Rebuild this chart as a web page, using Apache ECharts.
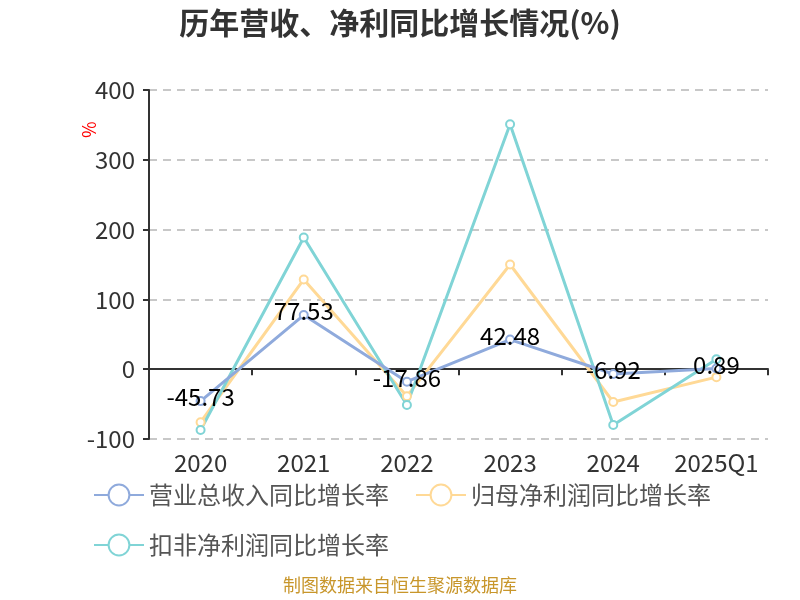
<!DOCTYPE html>
<html><head><meta charset="utf-8">
<script src="https://cdn.jsdelivr.net/npm/echarts@6/dist/echarts.min.js"></script>
<style>html,body{margin:0;padding:0;background:#fff}#c{width:800px;height:600px}</style>
</head><body><div id="c"></div>
<script>
const categories = ['2020','2021','2022','2023','2024','2025Q1'];
const revenueGrowth = [-45.73, 77.53, -17.86, 42.48, -6.92, 0.89];
const netProfitGrowth = [-76, 128.6, -38.6, 150, -47, -11.4];
const deductedProfitGrowth = [-87, 188.6, -51.4, 351, -80, 14.3];
const seriesNames = ['营业总收入同比增长率','归母净利润同比增长率','扣非净利润同比增长率'];
const colors = ['#8FAADC','#FFD996','#80D4D6'];
const font = 'Noto Sans CJK SC';
const chart = echarts.init(document.getElementById('c'));
function mk(name, data, color, label){
  return {
    name, type:'line', data, color,
    symbol:'circle', symbolSize:8,
    itemStyle:{color:'#fff', borderColor:color, borderWidth:2},
    lineStyle:{color, width:3},
    label: label ? {show:true, position:'inside', offset:[0,-4], color:'#000', fontSize:24, fontFamily:font} : {show:false},
    z: label ? 5 : 3
  };
}
chart.setOption({
  animation:false,
  title:{text:'历年营收、净利同比增长情况(%)', left:'center', top:3, textStyle:{fontSize:30, fontWeight:'bold', color:'#333', fontFamily:font}},
  grid:{left:149, right:32, top:90, bottom:161},
  legend:{left:88, top:478, width:680, itemWidth:50, itemHeight:26, itemGap:26, textStyle:{fontSize:24, color:'#555', fontFamily:font},
    data:seriesNames},
  xAxis:{type:'category', data:categories, boundaryGap:true,
    axisLine:{lineStyle:{color:'#333', width:2}}, axisTick:{show:true, length:6, lineStyle:{color:'#333', width:2}},
    axisLabel:{interval:0, fontSize:24, color:'#333', margin:12, fontFamily:font}},
  yAxis:{type:'value', min:-100, max:400, interval:100,
    axisLine:{show:true, lineStyle:{color:'#333', width:2}}, axisTick:{show:true, length:6, lineStyle:{color:'#333', width:2}},
    axisLabel:{fontSize:24, color:'#333', margin:14, fontFamily:font},
    splitLine:{lineStyle:{type:[8,6], color:'#c8c8c8', width:2}}},
  series:[mk(seriesNames[0], revenueGrowth, colors[0], true), mk(seriesNames[1], netProfitGrowth, colors[1], false), mk(seriesNames[2], deductedProfitGrowth, colors[2], false)],
  graphic:[
    {type:'text', x:80, y:138, rotation:Math.PI/2, style:{text:'%', fill:'red', font:'18px "Noto Sans CJK SC"'}},
    {type:'text', left:'center', top:576, style:{text:'制图数据来自恒生聚源数据库', fill:'#C8962B', font:'18px "Noto Sans CJK SC"'}}]
});
</script></body></html>
